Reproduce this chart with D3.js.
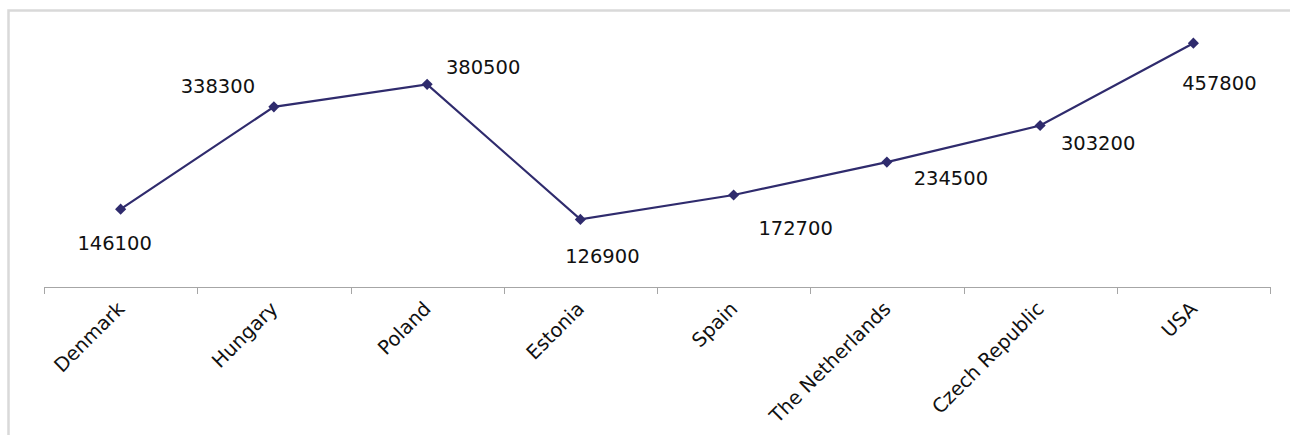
<!DOCTYPE html>
<html>
<head>
<meta charset="utf-8">
<script src="https://cdn.jsdelivr.net/npm/d3@7"></script>
<style>
  html, body { margin: 0; padding: 0; background: #fff; }
  svg { display: block; }
  text { font-family: "DejaVu Sans", Verdana, sans-serif; fill: #111; }
</style>
</head>
<body>
<div id="chart"></div>
<script>
// values
const countries = ["Denmark", "Hungary", "Poland", "Estonia", "Spain",
  "The Netherlands", "Czech Republic", "USA"];
const amounts = [146100, 338300, 380500, 126900, 172700, 234500, 303200, 457800];

// where each value label sits relative to its marker (centre x, baseline y)
const labelNudge = [[-6, 41], [-56, -14], [56, -10], [22, 44],
  [62, 40], [64, 23], [58, 24], [26, 47]];

const W = 1290, H = 435;
const plot = { left: 44, right: 1270, top: 20.7, bottom: 287 };
const NAVY = "#2f2b6d";

const svg = d3.select("#chart").append("svg")
  .attr("width", W).attr("height", H);

// outer frame (runs off the right/bottom edge in the original)
svg.append("rect")
  .attr("x", 8.5).attr("y", 10.5).attr("width", 1300).attr("height", 440)
  .attr("fill", "none").attr("stroke", "#d9d9d9").attr("stroke-width", 2.5);

const x = d3.scaleBand().domain(countries).range([plot.left, plot.right]).paddingInner(0).paddingOuter(0);
const y = d3.scaleLinear().domain([0, 500000]).range([plot.bottom, plot.top]);
const cx = d => x(d) + x.bandwidth() / 2;

// category axis: baseline plus ticks between categories
const axis = svg.append("g");
axis.append("line")
  .attr("x1", plot.left).attr("x2", plot.right)
  .attr("y1", plot.bottom + 0.5).attr("y2", plot.bottom + 0.5)
  .attr("stroke", "#a6a6a6").attr("stroke-width", 1);
axis.selectAll("line.tick").data(d3.range(countries.length + 1)).join("line")
  .attr("class", "tick")
  .attr("x1", i => Math.round(plot.left + i * x.step()) + 0.5)
  .attr("x2", i => Math.round(plot.left + i * x.step()) + 0.5)
  .attr("y1", plot.bottom).attr("y2", plot.bottom + 7)
  .attr("stroke", "#a6a6a6").attr("stroke-width", 1);

axis.selectAll("text.cat").data(countries).join("text")
  .attr("class", "cat")
  .attr("text-anchor", "end")
  .attr("font-size", 19.5)
  .attr("transform", d => `translate(${cx(d) + 5},${plot.bottom + 23}) rotate(-45)`)
  .text(d => d);

const rows = countries.map((c, i) => ({ c, v: amounts[i], nudge: labelNudge[i] }));

svg.append("path").datum(rows)
  .attr("fill", "none").attr("stroke", NAVY).attr("stroke-width", 2.2)
  .attr("d", d3.line().x(d => cx(d.c)).y(d => y(d.v)));

svg.selectAll("path.mark").data(rows).join("path")
  .attr("class", "mark")
  .attr("d", d3.symbol(d3.symbolSquare, 62))
  .attr("transform", d => `translate(${cx(d.c)},${y(d.v)}) rotate(45)`)
  .attr("fill", NAVY);

svg.selectAll("text.val").data(rows).join("text")
  .attr("class", "val")
  .attr("text-anchor", "middle")
  .attr("font-size", 19.5)
  .attr("x", d => cx(d.c) + d.nudge[0])
  .attr("y", d => y(d.v) + d.nudge[1])
  .text(d => d.v);
</script>
</body>
</html>
